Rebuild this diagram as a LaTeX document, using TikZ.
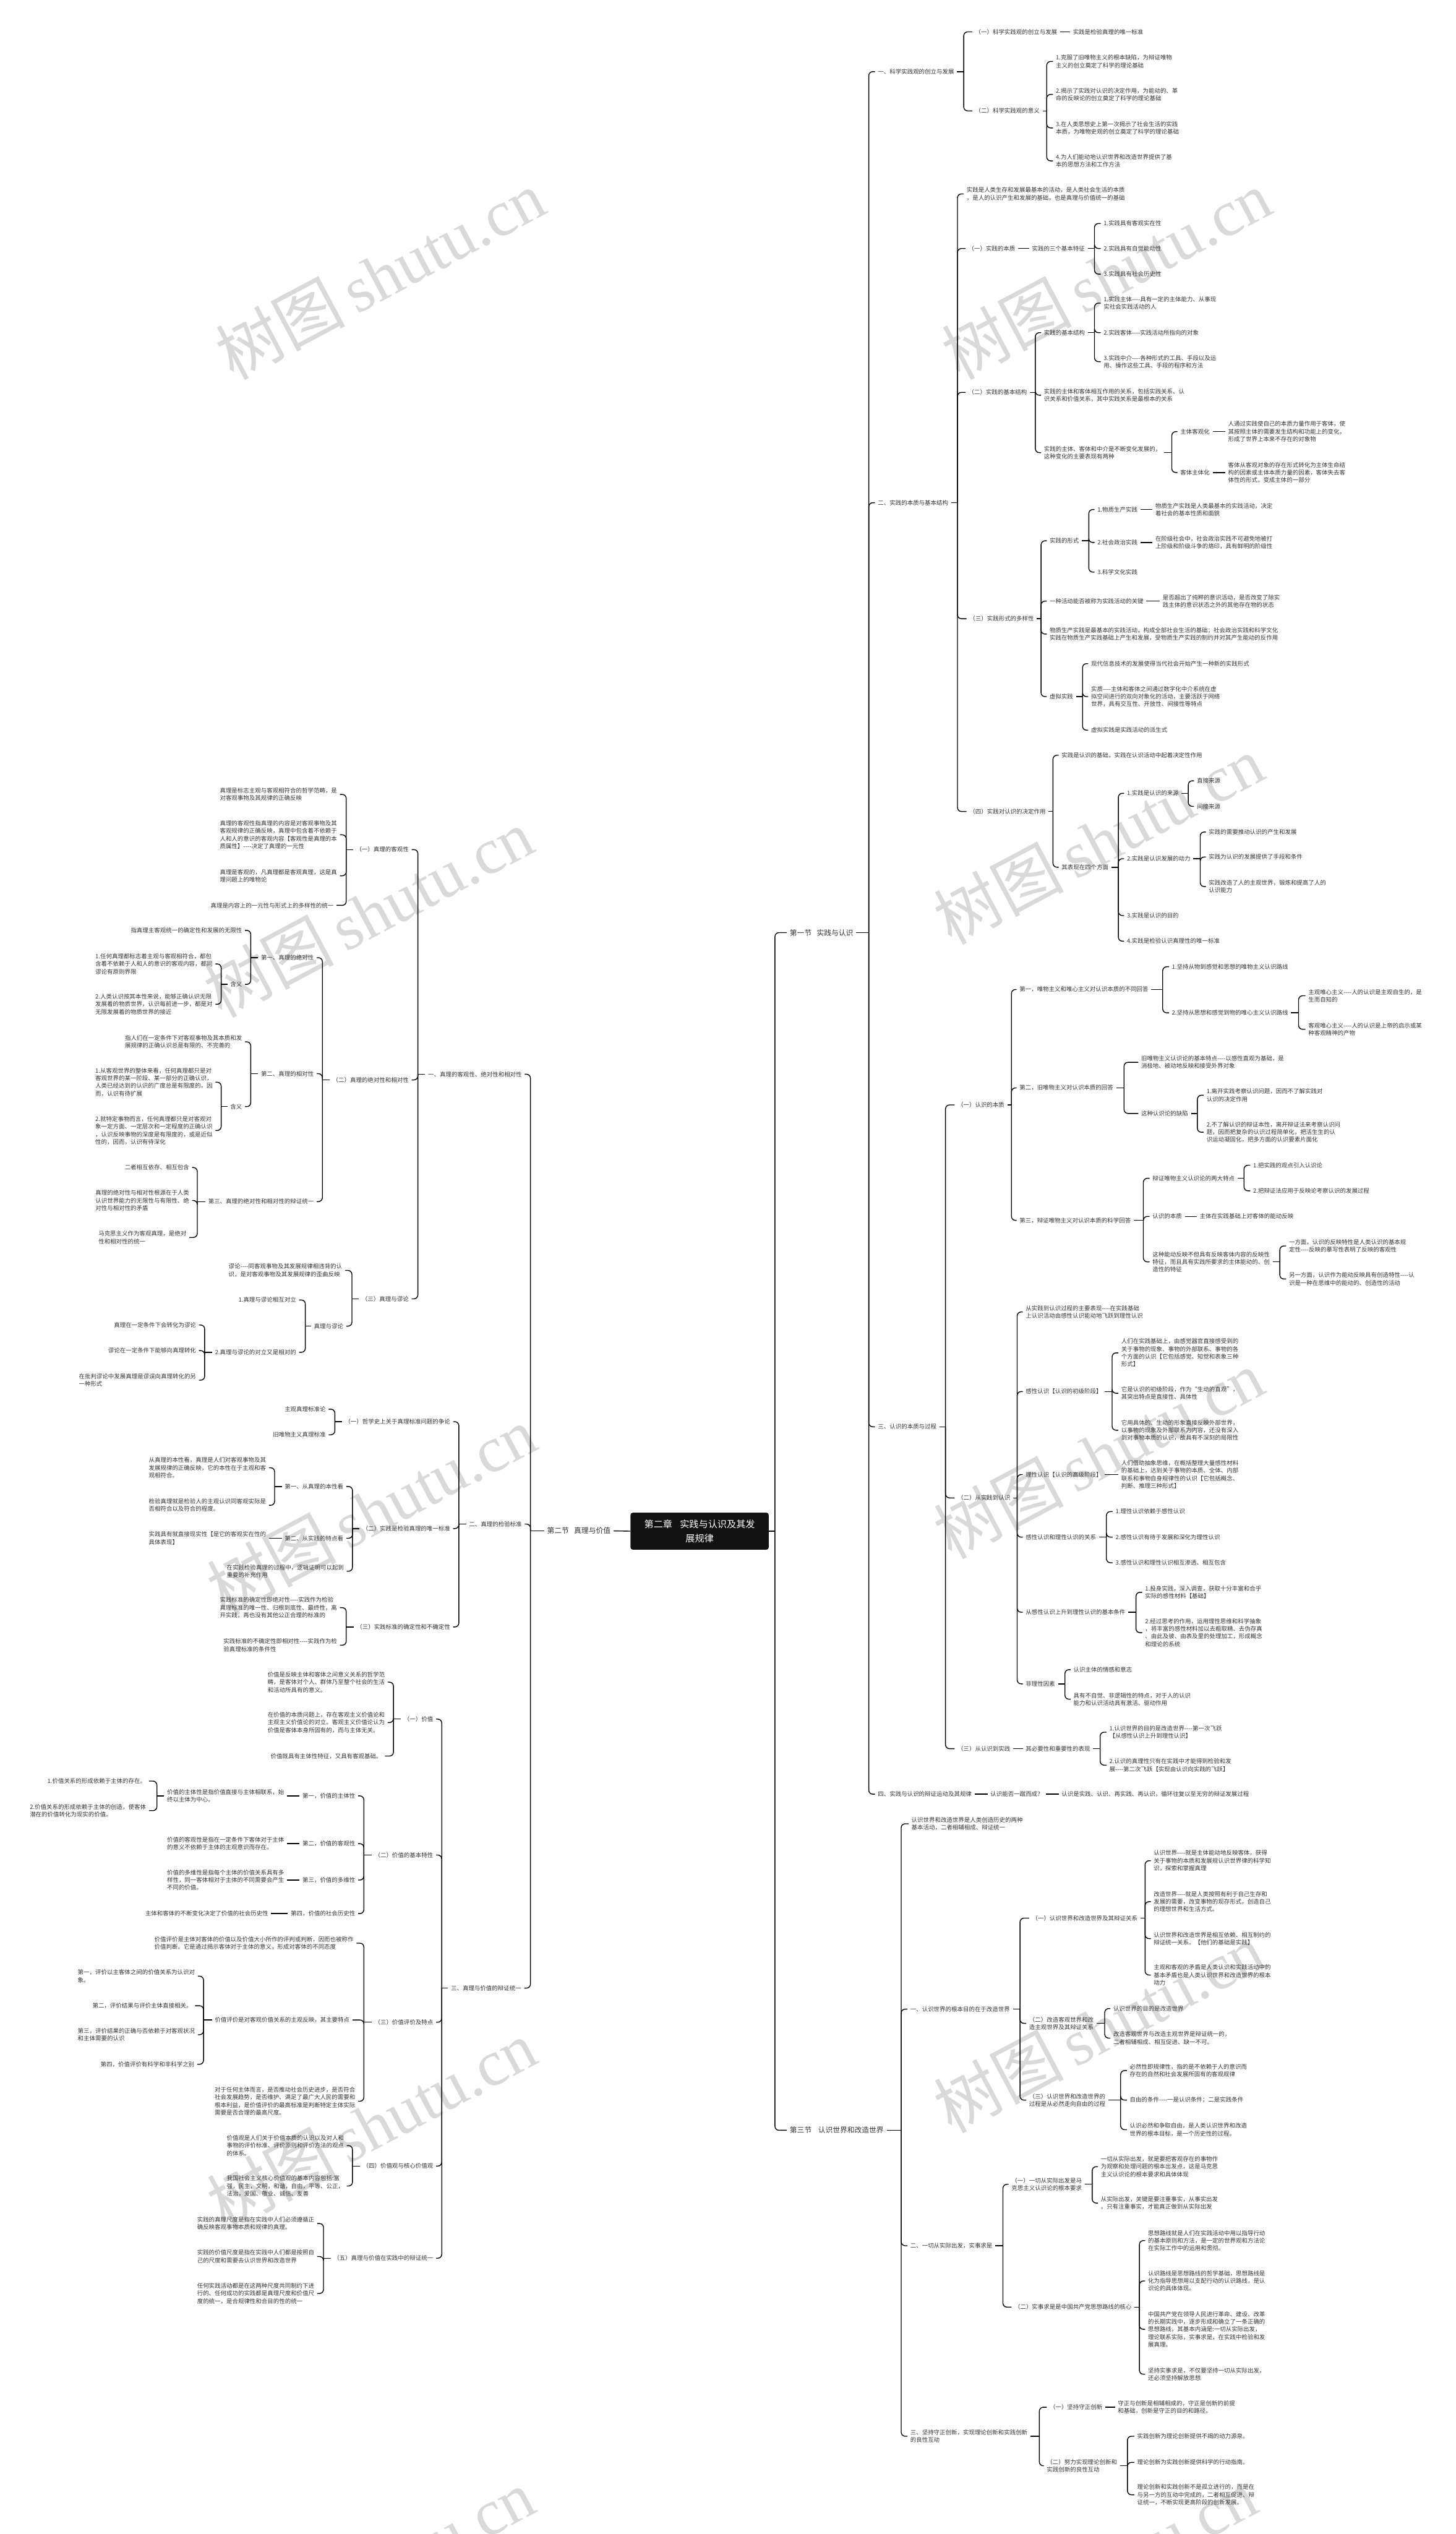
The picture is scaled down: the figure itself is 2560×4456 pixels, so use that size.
\documentclass[tikz,border=0pt]{standalone}
\usepackage{fontspec}
\newfontfamily\cjk{Noto Sans CJK SC}
\newfontfamily\wmserif{Liberation Serif}
\usetikzlibrary{calc}
\definecolor{txtc}{HTML}{333333}
\definecolor{wmc}{HTML}{D9D9D9}
\newcommand\hyph{-{}-{}-{}-}
\tikzset{
 txt/.style={font=\cjk\fontsize{10.3pt}{13.4pt}\selectfont, align=left, inner xsep=5pt, inner ysep=1pt, text=txtc},
 sec/.style={font=\cjk\fontsize{12.8pt}{16pt}\selectfont, inner xsep=5pt, inner ysep=2pt, text=txtc},
 rootbox/.style={fill=black!93, rounded corners=4pt, text=white, font=\cjk\fontsize{16.5pt}{25pt}\selectfont, align=center, minimum width=243pt, minimum height=65pt, inner sep=0pt},
 conn/.style={line width=1.5pt, draw=black},
 wmark/.style={text=wmc, rotate=28, inner sep=0pt}
}
\newcommand\myR[4]{\node[txt,anchor=west] (#1) at (#2-5,#3) {#4};}
\newcommand\myL[4]{\node[txt,anchor=east] (#1) at (#2+5,#3) {#4};}
\newcommand\brR[3]{\coordinate (#1s) at (#2,0);\draw[conn] (#1.east) -- (#1s |- #1.east);\foreach \kid in {#3}{\draw[conn,rounded corners=7pt] (#1s |- #1.east) |- (\kid.west);}}
\newcommand\brL[3]{\coordinate (#1s) at (#2,0);\draw[conn] (#1.west) -- (#1s |- #1.west);\foreach \kid in {#3}{\draw[conn,rounded corners=7pt] (#1s |- #1.west) |- (\kid.east);}}
\newcommand\lnR[2]{\draw[conn] (#1.east) -- (#2.west);}
\newcommand\lnL[2]{\draw[conn] (#1.west) -- (#2.east);}
\begin{document}
\begin{tikzpicture}[x=1pt,y=-1pt]
\fill[white] (0,0) rectangle (2560,4456);
\useasboundingbox (0,0) rectangle (2560,4456);
% watermarks
\foreach \wx/\wy in {668/483, 1946/483, 648/1605, 1932/1477, 653/2656, 1932/2557, 653/3736, 1932/3566, 650/4525, 1920/4525}{
 \node[wmark] at (\wx,\wy) {\cjk\fontsize{114pt}{114pt}\selectfont 树图\,{\wmserif shutu.cn}};
}
% root
\node[rootbox] (R) at (1230.5,2692.5) {第二章\hspace{0.8em}实践与认识及其发\\展规律};
\node[sec,anchor=west] (S1) at (1384,1640) {第一节\hspace{0.7em}实践与认识};
\node[sec,anchor=west] (S3) at (1384,3746) {第三节\hspace{0.9em}认识世界和改造世界};
\node[sec,anchor=east] (S2) at (1079,2692) {第二节\hspace{0.7em}真理与价值};
\brR{R}{1363}{S1,S3}
\lnL{R}{S2}

% ================= Section 1 =================
\myR{A1}{1544}{126}{一、科学实践观的创立与发展}
\myR{A2}{1544}{884}{二、实践的本质与基本结构}
\myR{A3}{1544}{2509}{三、认识的本质与过程}
\myR{A4}{1544}{3155}{四、实践与认识的辩证运动及其规律}
\brR{S1}{1528}{A1,A2,A3,A4}

\myR{A1a}{1715}{56}{（一）科学实践观的创立与发展}
\myR{A1a1}{1887}{56}{实践是检验真理的唯一标准}
\lnR{A1a}{A1a1}
\myR{A1b}{1715}{195}{（二）科学实践观的意义}
\brR{A1}{1695}{A1a,A1b}
\myR{A1b1}{1857}{108}{1.克服了旧唯物主义的根本缺陷，为辩证唯物\\主义的创立奠定了科学的理论基础}
\myR{A1b2}{1857}{166}{2.揭示了实践对认识的决定作用，为能动的、革\\命的反映论的创立奠定了科学的理论基础}
\myR{A1b3}{1857}{225}{3.在人类思想史上第一次揭示了社会生活的实践\\本质，为唯物史观的创立奠定了科学的理论基础}
\myR{A1b4}{1857}{283}{4.为人们能动地认识世界和改造世界提供了基\\本的思想方法和工作方法}
\brR{A1b}{1841}{A1b1,A1b2,A1b3,A1b4}

\myR{A2a}{1700}{341}{实践是人类生存和发展最基本的活动，是人类社会生活的本质\\，是人的认识产生和发展的基础，也是真理与价值统一的基础}
\myR{A2b}{1703}{437}{（一）实践的本质}
\myR{A2c}{1703}{690}{（二）实践的基本结构}
\myR{A2d}{1705}{1088}{（三）实践形式的多样性}
\myR{A2e}{1705}{1427}{（四）实践对认识的决定作用}
\brR{A2}{1684}{A2a,A2b,A2c,A2d,A2e}

\myR{A2b1}{1815}{437}{实践的三个基本特征}
\lnR{A2b}{A2b1}
\myR{A2b1a}{1941}{393}{1.实践具有客观实在性}
\myR{A2b1b}{1941}{437}{2.实践具有自觉能动性}
\myR{A2b1c}{1941}{482}{3.实践具有社会历史性}
\brR{A2b1}{1925}{A2b1a,A2b1b,A2b1c}

\myR{A2c1}{1836}{585}{实践的基本结构}
\myR{A2c2}{1836}{695}{实践的主体和客体相互作用的关系，包括实践关系、认\\识关系和价值关系，其中实践关系是最根本的关系}
\myR{A2c3}{1836}{796}{实践的主体、客体和中介是不断变化发展的，\\这种变化的主要表现有两种}
\brR{A2c}{1821}{A2c1,A2c2,A2c3}
\myR{A2c1a}{1941}{533}{1.实践主体\hyph 具有一定的主体能力、从事现\\实社会实践活动的人}
\myR{A2c1b}{1941}{585}{2.实践客体\hyph 实践活动所指向的对象}
\myR{A2c1c}{1941}{636}{3.实践中介\hyph 各种形式的工具、手段以及运\\用、操作这些工具、手段的程序和方法}
\brR{A2c1}{1925}{A2c1a,A2c1b,A2c1c}
\myR{A2c3a}{2076}{759}{主体客观化}
\myR{A2c3b}{2076}{831}{客体主体化}
\brR{A2c3}{2061}{A2c3a,A2c3b}
\myR{A2c3a1}{2160}{759}{人通过实践使自己的本质力量作用于客体，使\\其按照主体的需要发生结构和功能上的变化，\\形成了世界上本来不存在的对象物}
\lnR{A2c3a}{A2c3a1}
\myR{A2c3b1}{2160}{831}{客体从客观对象的存在形式转化为主体生命结\\构的因素或主体本质力量的因素，客体失去客\\体性的形式，变成主体的一部分}
\lnR{A2c3b}{A2c3b1}

\myR{A2d1}{1846}{951}{实践的形式}
\myR{A2d2}{1846}{1057}{一种活动能否被称为实践活动的关键}
\myR{A2d3}{1846}{1115}{物质生产实践是最基本的实践活动，构成全部社会生活的基础；社会政治实践和科学文化\\实践在物质生产实践基础上产生和发展，受物质生产实践的制约并对其产生能动的反作用}
\myR{A2d4}{1846}{1225}{虚拟实践}
\brR{A2d}{1831}{A2d1,A2d2,A2d3,A2d4}
\myR{A2d1a}{1930}{896}{1.物质生产实践}
\myR{A2d1b}{1930}{954}{2.社会政治实践}
\myR{A2d1c}{1930}{1006}{3.科学文化实践}
\brR{A2d1}{1915}{A2d1a,A2d1b,A2d1c}
\myR{A2d1a1}{2032}{896}{物质生产实践是人类最基本的实践活动，决定\\着社会的基本性质和面貌}
\lnR{A2d1a}{A2d1a1}
\myR{A2d1b1}{2032}{954}{在阶级社会中，社会政治实践不可避免地被打\\上阶级和阶级斗争的烙印，具有鲜明的阶级性}
\lnR{A2d1b}{A2d1b1}
\myR{A2d2a}{2045}{1057}{是否超出了纯粹的意识活动，是否改变了除实\\践主体的意识状态之外的其他存在物的状态}
\lnR{A2d2}{A2d2a}
\myR{A2d4a}{1919}{1167}{现代信息技术的发展使得当代社会开始产生一种新的实践形式}
\myR{A2d4b}{1919}{1225}{实质\hyph 主体和客体之间通过数字化中介系统在虚\\拟空间进行的双向对象化的活动，主要活跃于网络\\世界，具有交互性、开放性、间接性等特点}
\myR{A2d4c}{1919}{1284}{虚拟实践是实践活动的派生式}
\brR{A2d4}{1904}{A2d4a,A2d4b,A2d4c}

\myR{A2e1}{1867}{1328}{实践是认识的基础，实践在认识活动中起着决定性作用}
\myR{A2e2}{1867}{1525}{其表现在四个方面}
\brR{A2e}{1852}{A2e1,A2e2}
\myR{A2e2a}{1982}{1395}{1.实践是认识的来源}
\myR{A2e2b}{1982}{1510}{2.实践是认识发展的动力}
\myR{A2e2c}{1982}{1610}{3.实践是认识的目的}
\myR{A2e2d}{1982}{1655}{4.实践是检验认识真理性的唯一标准}
\brR{A2e2}{1967}{A2e2a,A2e2b,A2e2c,A2e2d}
\myR{A2e2a1}{2105}{1373}{直接来源}
\myR{A2e2a2}{2105}{1418}{间接来源}
\brR{A2e2a}{2090}{A2e2a1,A2e2a2}
\myR{A2e2b1}{2126}{1463}{实践的需要推动认识的产生和发展}
\myR{A2e2b2}{2126}{1507}{实践为认识的发展提供了手段和条件}
\myR{A2e2b3}{2126}{1559}{实践改造了人的主观世界，锻炼和提高了人的\\认识能力}
\brR{A2e2b}{2111}{A2e2b1,A2e2b2,A2e2b3}

\myR{A3a}{1684}{1943}{（一）认识的本质}
\myR{A3b}{1684}{2634}{（二）从实践到认识}
\myR{A3c}{1684}{3075}{（三）从认识到实践}
\brR{A3}{1663}{A3a,A3b,A3c}

\myR{A3a1}{1793}{1740}{第一，唯物主义和唯心主义对认识本质的不同回答}
\myR{A3a2}{1793}{1913}{第二，旧唯物主义对认识本质的回答}
\myR{A3a3}{1793}{2146}{第三，辩证唯物主义对认识本质的科学回答}
\brR{A3a}{1779}{A3a1,A3a2,A3a3}
\myR{A3a1a}{2061}{1700}{1.坚持从物到感觉和思想的唯物主义认识路线}
\myR{A3a1b}{2061}{1781}{2.坚持从思想和感觉到物的唯心主义认识路线}
\brR{A3a1}{2045}{A3a1a,A3a1b}
\myR{A3a1b1}{2301}{1751}{主观唯心主义\hyph 人的认识是主观自生的，是\\生而自知的}
\myR{A3a1b2}{2301}{1810}{客观唯心主义\hyph 人的认识是上帝的启示或某\\种客观精神的产物}
\brR{A3a1b}{2284}{A3a1b1,A3a1b2}
\myR{A3a2a}{2007}{1868}{旧唯物主义认识论的基本特点\hyph 以感性直观为基础，是\\消极地、被动地反映和接受外界对象}
\myR{A3a2b}{2007}{1958}{这种认识论的缺陷}
\brR{A3a2}{1977}{A3a2a,A3a2b}
\myR{A3a2b1}{2122}{1926}{1.离开实践考察认识问题，因而不了解实践对\\认识的决定作用}
\myR{A3a2b2}{2122}{1991}{2.不了解认识的辩证本性，离开辩证法来考察认识问\\题，因而把复杂的认识过程简单化，把活生生的认\\识运动凝固化，把多方面的认识要素片面化}
\brR{A3a2b}{2106}{A3a2b1,A3a2b2}
\myR{A3a3a}{2027}{2072}{辩证唯物主义认识论的两大特点}
\myR{A3a3b}{2027}{2139}{认识的本质}
\myR{A3a3c}{2027}{2219}{这种能动反映不但具有反映客体内容的反映性\\特征，而且具有实践所要求的主体能动的、创\\造性的特征}
\brR{A3a3}{2011}{A3a3a,A3a3b,A3a3c}
\myR{A3a3a1}{2204}{2049}{1.把实践的观点引入认识论}
\myR{A3a3a2}{2204}{2094}{2.把辩证法应用于反映论考察认识的发展过程}
\brR{A3a3a}{2188}{A3a3a1,A3a3a2}
\myR{A3a3b1}{2110}{2139}{主体在实践基础上对客体的能动反映}
\lnR{A3a3b}{A3a3b1}
\myR{A3a3c1}{2267}{2191}{一方面，认识的反映特性是人类认识的基本规\\定性\hyph 反映的摹写性表明了反映的客观性}
\myR{A3a3c2}{2267}{2249}{另一方面，认识作为能动反映具有创造特性\hyph 认\\识是一种在思维中的能动的、创造性的活动}
\brR{A3a3c}{2251}{A3a3c1,A3a3c2}

\myR{A3b1}{1804}{2307}{从实践到认识过程的主要表现\hyph 在实践基础\\上认识活动由感性认识能动地飞跃到理性认识}
\myR{A3b2}{1804}{2447}{感性认识【认识的初级阶段】}
\myR{A3b3}{1804}{2593}{理性认识【认识的高级阶段】}
\myR{A3b4}{1804}{2703}{感性认识和理性认识的关系}
\myR{A3b5}{1804}{2835}{从感性认识上升到理性认识的基本条件}
\myR{A3b6}{1804}{2961}{非理性因素}
\brR{A3b}{1789}{A3b1,A3b2,A3b3,A3b4,A3b5,A3b6}
\myR{A3b2a}{1972}{2379}{人们在实践基础上，由感觉器官直接感受到的\\关于事物的现象、事物的外部联系、事物的各\\个方面的认识【它包括感觉、知觉和表象三种\\形式】}
\myR{A3b2b}{1972}{2450}{它是认识的初级阶段，作为“生动的直观”，\\其突出特点是直接性、具体性}
\myR{A3b2c}{1972}{2515}{它用具体的、生动的形象直接反映外部世界，\\以事物的现象及外部联系为内容，还没有深入\\到对事物本质的认识，故具有不深刻的局限性}
\brR{A3b2}{1956}{A3b2a,A3b2b,A3b2c}
\myR{A3b3a}{1972}{2593}{人们借助抽象思维，在概括整理大量感性材料\\的基础上，达到关于事物的本质、全体、内部\\联系和事物自身规律性的认识【它包括概念、\\判断、推理三种形式】}
\lnR{A3b3}{A3b3a}
\myR{A3b4a}{1962}{2658}{1.理性认识依赖于感性认识}
\myR{A3b4b}{1962}{2703}{2.感性认识有待于发展和深化为理性认识}
\myR{A3b4c}{1962}{2748}{3.感性认识和理性认识相互渗透、相互包含}
\brR{A3b4}{1946}{A3b4a,A3b4b,A3b4c}
\myR{A3b5a}{2014}{2800}{1.投身实践，深入调查，获取十分丰富和合乎\\实际的感性材料【基础】}
\myR{A3b5b}{2014}{2871}{2.经过思考的作用，运用理性思维和科学抽象\\，将丰富的感性材料加以去粗取精、去伪存真\\、由此及彼、由表及里的处理加工，形成概念\\和理论的系统}
\brR{A3b5}{1998}{A3b5a,A3b5b}
\myR{A3b6a}{1888}{2936}{认识主体的情感和意志}
\myR{A3b6b}{1888}{2988}{具有不自觉、非逻辑性的特点，对于人的认识\\能力和认识活动具有激活、驱动作用}
\brR{A3b6}{1873}{A3b6a,A3b6b}

\myR{A3c1}{1804}{3075}{其必要性和重要性的表现}
\lnR{A3c}{A3c1}
\myR{A3c1a}{1951}{3046}{1.认识世界的目的是改造世界\hyph 第一次飞跃\\【从感性认识上升到理性认识】}
\myR{A3c1b}{1951}{3104}{2.认识的真理性只有在实践中才能得到检验和发\\展\hyph 第二次飞跃【实现由认识向实践的飞跃】}
\brR{A3c1}{1935}{A3c1a,A3c1b}

\myR{A4a}{1742}{3155}{认识能否一蹴而成？}
\lnR{A4}{A4a}
\myR{A4b}{1867}{3155}{认识是实践、认识、再实践、再认识，循环往复以至无穷的辩证发展过程}
\lnR{A4a}{A4b}

% ================= Section 3 =================
\myR{B0}{1603}{3207}{认识世界和改造世界是人类创造历史的两种\\基本活动，二者相辅相成、辩证统一}
\myR{B1}{1601}{3533}{一、认识世界的根本目的在于改造世界}
\myR{B2}{1601}{3949}{二、一切从实际出发，实事求是}
\myR{B3}{1601}{4284}{三、坚持守正创新，实现理论创新和实践创新\\的良性互动}
\brR{S3}{1585}{B0,B1,B2,B3}

\myR{B1a}{1815}{3373}{（一）认识世界和改造世界及其辩证关系}
\myR{B1b}{1810}{3558}{（二）改造客观世界和改\\造主观世界及其辩证关系}
\myR{B1c}{1810}{3693}{（三）认识世界和改造世界的\\过程是从必然走向自由的过程}
\brR{B1}{1794}{B1a,B1b,B1c}
\myR{B1a1}{2029}{3272}{认识世界\hyph 就是主体能动地反映客体，获得\\关于事物的本质和发展规认识世界律的科学知\\识，探索和掌握真理}
\myR{B1a2}{2029}{3344}{改造世界\hyph 就是人类按照有利于自己生存和\\发展的需要，改变事物的现存形式，创造自己\\的理想世界和生活方式。}
\myR{B1a3}{2029}{3409}{认识世界和改造世界是相互依赖、相互制约的\\辩证统一关系。【他们的基础是实践】}
\myR{B1a4}{2029}{3473}{主观和客观的矛盾是人类认识和实践活动中的\\基本矛盾也是人类认识世界和改造世界的根本\\动力}
\brR{B1a}{2014}{B1a1,B1a2,B1a3,B1a4}
\myR{B1b1}{1958}{3532}{认识世界的目的是改造世界}
\myR{B1b2}{1958}{3584}{改造客观世界与改造主观世界是辩证统一的，\\二者相辅相成、相互促进、缺一不可。}
\brR{B1b}{1943}{B1b1,B1b2}
\myR{B1c1}{1987}{3641}{必然性即规律性，指的是不依赖于人的意识而\\存在的自然和社会发展所固有的客观规律}
\myR{B1c2}{1987}{3693}{自由的条件\hyph 一是认识条件；二是实践条件}
\myR{B1c3}{1987}{3745}{认识必然和争取自由，是人类认识世界和改造\\世界的根本目标，是一个历史性的过程。}
\brR{B1c}{1971}{B1c1,B1c2,B1c3}

\myR{B2a}{1779}{3841}{（一）一切从实际出发是马\\克思主义认识论的根本要求}
\myR{B2b}{1784}{4057}{（二）实事求是是中国共产党思想路线的核心}
\brR{B2}{1764}{B2a,B2b}
\myR{B2a1}{1936}{3810}{一切从实际出发，就是要把客观存在的事物作\\为观察和处理问题的根本出发点，这是马克思\\主义认识论的根本要求和具体体现}
\myR{B2a2}{1936}{3874}{从实际出发，关键是要注重事实，从事实出发\\。只有注重事实，才能真正做到从实际出发}
\brR{B2a}{1921}{B2a1,B2a2}
\myR{B2b1}{2019}{3940}{思想路线就是人们在实践活动中用以指导行动\\的基本原则和方法，是一定的世界观和方法论\\在实际工作中的运用和贯彻。}
\myR{B2b2}{2019}{4011}{认识路线是思想路线的哲学基础，思想路线是\\化为指导思想用以支配行动的认识路线，是认\\识论的具体体现。}
\myR{B2b3}{2019}{4096}{中国共产党在领导人民进行革命、建设、改革\\的长期实践中，逐步形成和确立了一条正确的\\思想路线，其基本内涵是:一切从实际出发，\\理论联系实际，实事求是，在实践中检验和发\\展真理。}
\myR{B2b4}{2019}{4175}{坚持实事求是，不仅要坚持一切从实际出发，\\还必须坚持解放思想}
\brR{B2b}{2004}{B2b1,B2b2,B2b3,B2b4}

\myR{B3a}{1846}{4233}{（一）坚持守正创新}
\myR{B3b}{1841}{4336}{（二）努力实现理论创新和\\实践创新的良性互动}
\brR{B3}{1828}{B3a,B3b}
\myR{B3a1}{1966}{4233}{守正与创新是相辅相成的，守正是创新的前提\\和基础，创新是守正的目的和路径。}
\lnR{B3a}{B3a1}
\myR{B3b1}{2000}{4284}{实践创新为理论创新提供不竭的动力源泉。}
\myR{B3b2}{2000}{4330}{理论创新为实践创新提供科学的行动指南。}
\myR{B3b3}{2000}{4387}{理论创新和实践创新不是孤立进行的，而是在\\与另一方的互动中完成的，二者相互促进、辩\\证统一，不断实现更高阶段的创新发展。}
\brR{B3b}{1983}{B3b1,B3b2,B3b3}

% ================= Section 2 (left) =================
\myL{C1}{918}{1889}{一、真理的客观性、绝对性和相对性}
\myL{C2}{918}{2680}{二、真理的检验标准}
\myL{C3}{917}{3496}{三、真理与价值的辩证统一}
\brL{S2}{933}{C1,C2,C3}

\myL{C1a}{719}{1494}{（一）真理的客观性}
\myL{C1b}{719}{1899}{（二）真理的绝对性和相对性}
\myL{C1c}{719}{2284}{（三）真理与谬论}
\brL{C1}{735}{C1a,C1b,C1c}
\myL{C1a1}{593}{1397}{真理是标志主观与客观相符合的哲学范畴，是\\对客观事物及其规律的正确反映}
\myL{C1a2}{593}{1468}{真理的客观性指真理的内容是对客观事物及其\\客观规律的正确反映，真理中包含着不依赖于\\人和人的意识的客观内容【客观性是真理的本\\质属性】\hyph 决定了真理的一元性}
\myL{C1a3}{593}{1540}{真理是客观的，凡真理都是客观真理，这是真\\理问题上的唯物论}
\myL{C1a4}{587}{1592}{真理是内容上的一元性与形式上的多样性的统一}
\brL{C1a}{609}{C1a1,C1a2,C1a3,C1a4}

\myL{C1b1}{552}{1684}{第一、真理的绝对性}
\myL{C1b2}{552}{1888}{第二、真理的相对性}
\myL{C1b3}{552}{2113}{第三、真理的绝对性和相对性的辩证统一}
\brL{C1b}{567}{C1b1,C1b2,C1b3}
\myL{C1b1a}{426}{1636}{指真理主客观统一的确定性和发展的无限性}
\myL{C1b1b}{426}{1731}{含义}
\brL{C1b1}{441}{C1b1a,C1b1b}
\myL{C1b1b1}{374}{1695}{1.任何真理都标志着主观与客观相符合，都包\\含着不依赖于人和人的意识的客观内容，都同\\谬论有原则界限}
\myL{C1b1b2}{374}{1766}{2.人类认识按其本性来说，能够正确认识无限\\发展着的物质世界，认识每前进一步，都是对\\无限发展着的物质世界的接近}
\brL{C1b1b}{389}{C1b1b1,C1b1b2}
\myL{C1b2a}{426}{1832}{指人们在一定条件下对客观事物及其本质和发\\展规律的正确认识总是有限的、不完善的}
\myL{C1b2b}{426}{1946}{含义}
\brL{C1b2}{441}{C1b2a,C1b2b}
\myL{C1b2b1}{374}{1903}{1.从客观世界的整体来看，任何真理都只是对\\客观世界的某一阶段、某一部分的正确认识，\\人类已经达到的认识的广度总是有限度的，因\\而，认识有待扩展}
\myL{C1b2b2}{374}{1988}{2.就特定事物而言，任何真理都只是对客观对\\象一定方面、一定层次和一定程度的正确认识\\，认识反映事物的深度是有限度的，或是近似\\性的，因而，认识有待深化}
\brL{C1b2b}{389}{C1b2b1,C1b2b2}
\myL{C1b3a}{333}{2053}{二者相互依存、相互包含}
\myL{C1b3b}{333}{2111}{真理的绝对性与相对性根源在于人类\\认识世界能力的无限性与有限性、绝\\对性与相对性的矛盾}
\myL{C1b3c}{328}{2176}{马克思主义作为客观真理，是绝对\\性和相对性的统一}
\brL{C1b3}{347}{C1b3a,C1b3b,C1b3c}

\myL{C1c1}{602}{2234}{谬论\hyph 同客观事物及其发展规律相违背的认\\识，是对客观事物及其发展规律的歪曲反映}
\myL{C1c2}{604}{2332}{真理与谬论}
\brL{C1c}{619}{C1c1,C1c2}
\myL{C1c2a}{521}{2286}{1.真理与谬论相互对立}
\myL{C1c2b}{521}{2378}{2.真理与谬论的对立又是相对的}
\brL{C1c2}{537}{C1c2a,C1c2b}
\myL{C1c2b1}{345}{2330}{真理在一定条件下会转化为谬论}
\myL{C1c2b2}{345}{2375}{谬论在一定条件下能够向真理转化}
\myL{C1c2b3}{345}{2427}{在批判谬论中发展真理是谬误向真理转化的另\\一种形式}
\brL{C1c2b}{360}{C1c2b1,C1c2b2,C1c2b3}

\myL{C2a}{792}{2500}{（一）哲学史上关于真理标准问题的争论}
\myL{C2b}{792}{2688}{（二）实践是检验真理的唯一标准}
\myL{C2c}{792}{2861}{（三）实践标准的确定性和不确定性}
\brL{C2}{807}{C2a,C2b,C2c}
\myL{C2a1}{573}{2478}{主观真理标准论}
\myL{C2a2}{573}{2523}{旧唯物主义真理标准}
\brL{C2a}{589}{C2a1,C2a2}
\myL{C2b1}{604}{2614}{第一、从真理的本性看}
\myL{C2b2}{604}{2705}{第二、从实践的特点看}
\myL{C2b3}{605}{2763}{在实践检验真理的过程中，逻辑证明可以起到\\重要的补充作用}
\brL{C2b}{620}{C2b1,C2b2,C2b3}
\myL{C2b1a}{468}{2581}{从真理的本性看，真理是人们对客观事物及其\\发展规律的正确反映，它的本性在于主观和客\\观相符合。}
\myL{C2b1b}{468}{2647}{检验真理就是检验人的主观认识同客观实际是\\否相符合以及符合的程度。}
\brL{C2b1}{483}{C2b1a,C2b1b}
\myL{C2b2a}{468}{2705}{实践具有就直接现实性【是它的客观实在性的\\具体表现】}
\lnL{C2b2}{C2b2a}
\myL{C2c1}{593}{2827}{实践标准的确定性即绝对性\hyph 实践作为检验\\真理标准的唯一性、归根到底性、最终性，离\\开实践，再也没有其他公正合理的标准的}
\myL{C2c2}{593}{2893}{实践标准的不确定性即相对性\hyph 实践作为检\\验真理标准的条件性}
\brL{C2c}{609}{C2c1,C2c2}

\myL{C3a}{762}{3023}{（一）价值}
\myL{C3b}{762}{3262}{（二）价值的基本特性}
\myL{C3c}{762}{3556}{（三）价值评价及特点}
\myL{C3d}{762}{3809}{（四）价值观与核心价值观}
\myL{C3e}{762}{3971}{（五）真理与价值在实践中的辩证统一}
\brL{C3}{777}{C3a,C3b,C3c,C3d,C3e}
\myL{C3a1}{677}{2958}{价值是反映主体和客体之间意义关系的哲学范\\畴，是客体对个人、群体乃至整个社会的生活\\和活动所具有的意义。}
\myL{C3a2}{677}{3029}{在价值的本质问题上，存在客观主义价值论和\\主观主义价值论的对立。客观主义价值论认为\\价值是客体本身所固有的，而与主体无关。}
\myL{C3a3}{672}{3088}{价值既具有主体性特征，又具有客观基础。}
\brL{C3a}{692}{C3a1,C3a2,C3a3}

\myL{C3b1}{625}{3158}{第一，价值的主体性}
\myL{C3b2}{625}{3242}{第二，价值的客观性}
\myL{C3b3}{625}{3306}{第三，价值的多维性}
\myL{C3b4}{625}{3365}{第四，价值的社会历史性}
\brL{C3b}{640}{C3b1,C3b2,C3b3,C3b4}
\myL{C3b1a}{500}{3158}{价值的主体性是指价值直接与主体相联系，始\\终以主体为中心。}
\lnL{C3b1}{C3b1a}
\myL{C3b1a1}{257}{3132}{1.价值关系的形成依赖于主体的存在。}
\myL{C3b1a2}{257}{3184}{2.价值关系的形成依赖于主体的创造，使客体\\潜在的价值转化为现实的价值。}
\brL{C3b1a}{276}{C3b1a1,C3b1a2}
\myL{C3b2a}{500}{3242}{价值的客观性是指在一定条件下客体对于主体\\的意义不依赖于主体的主观意识而存在。}
\lnL{C3b2}{C3b2a}
\myL{C3b3a}{500}{3306}{价值的多维性是指每个主体的价值关系具有多\\样性，同一客体相对于主体的不同需要会产生\\不同的价值。}
\lnL{C3b3}{C3b3a}
\myL{C3b4a}{472}{3365}{主体和客体的不断变化决定了价值的社会历史性}
\lnL{C3b4}{C3b4a}

\myL{C3c1}{622}{3417}{价值评价是主体对客体的价值以及价值大小所作的评判或判断，因而也被称作\\价值判断。它是通过揭示客体对于主体的意义，形成对客体的不同态度}
\myL{C3c2}{615}{3552}{价值评价是对客观价值关系的主观反映，其主要特点}
\myL{C3c3}{625}{3695}{对于任何主体而言，是否推动社会历史进步，是否符合\\社会发展趋势，是否维护、满足了最广大人民的需要和\\根本利益，是价值评价的最高标准是判断特定主体实际\\需要是否合理的最高尺度。}
\brL{C3c}{640}{C3c1,C3c2,C3c3}
\myL{C3c2a}{343}{3475}{第一，评价以主客体之间的价值关系为认识对\\象。}
\myL{C3c2b}{338}{3527}{第二，评价结果与评价主体直接相关。}
\myL{C3c2c}{343}{3578}{第三，评价结果的正确与否依赖于对客观状况\\和主体需要的认识}
\myL{C3c2d}{342}{3630}{第四，价值评价有科学和非科学之别}
\brL{C3c2}{358}{C3c2a,C3c2b,C3c2c,C3c2d}

\myL{C3d1}{605}{3773}{价值观是人们关于价值本质的认识以及对人和\\事物的评价标准、评价原则和评价方法的观点\\的体系。}
\myL{C3d2}{605}{3844}{我国社会主义核心价值观的基本内容包括:富\\强，民主，文明，和谐，自由，平等、公正，\\法治，爱国、敬业、诚信、友善}
\brL{C3d}{620}{C3d1,C3d2}
\myL{C3e1}{553}{3910}{实践的真理尺度是指在实践中人们必须遵循正\\确反映客观事物本质和规律的真理。}
\myL{C3e2}{553}{3968}{实践的价值尺度是指在实践中人们都是按照自\\己的尺度和需要去认识世界和改造世界}
\myL{C3e3}{553}{4033}{任何实践活动都是在这两种尺度共同制约下进\\行的、任何成功的实践都是真理尺度和价值尺\\度的统一，是合规律性和合目的性的统一}
\brL{C3e}{569}{C3e1,C3e2,C3e3}
\end{tikzpicture}
\end{document}
